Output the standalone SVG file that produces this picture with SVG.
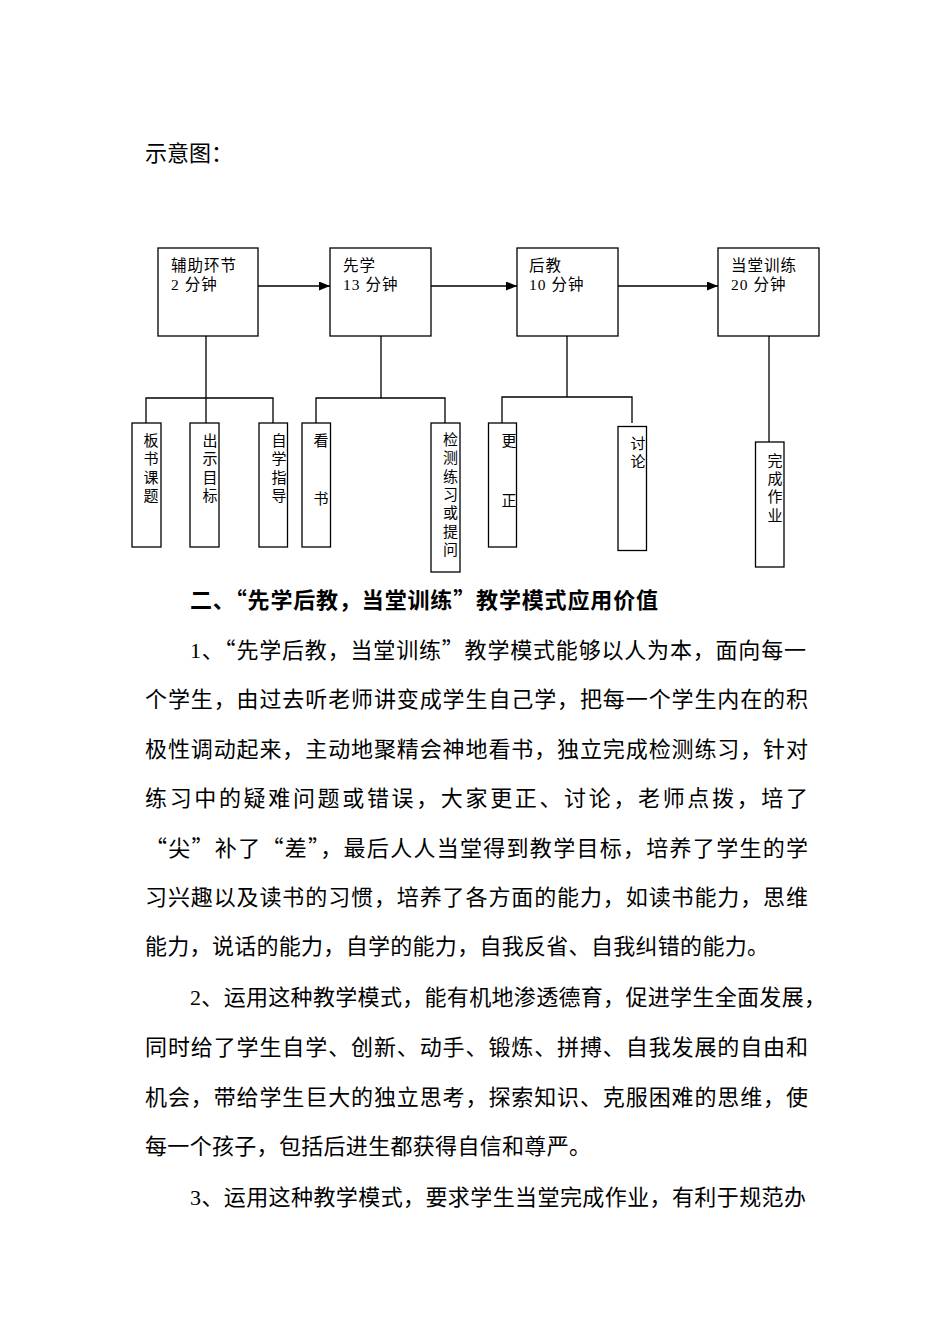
<svg xmlns="http://www.w3.org/2000/svg" width="950" height="1344" viewBox="0 0 950 1344">
<style>
.bx{fill:#fff;stroke:#000;stroke-width:1.3}
.ln{fill:none;stroke:#000;stroke-width:1.3}
.lb{font-family:"Liberation Serif","Noto Sans CJK SC",serif;font-size:15.5px;fill:#000}
.vt{font-family:"Noto Sans CJK SC",sans-serif;font-size:15px;fill:#000;writing-mode:vertical-rl;text-orientation:upright;letter-spacing:3.3px}
.p{font-family:"Noto Sans CJK SC",sans-serif;font-size:22px;fill:#000}
.d{font-family:"Liberation Serif",serif}
.h{font-weight:bold}
</style>
<defs>
<marker id="ah" markerWidth="11" markerHeight="9" refX="11" refY="4.5" orient="auto" markerUnits="userSpaceOnUse">
<path d="M0,0 L11,4.5 L0,9 Z" fill="#000"/>
</marker>
</defs>
<rect width="950" height="1344" fill="#fff"/>
<text class="p" x="145" y="161">示意图：</text>

<g id="connectors">
<line class="ln" x1="258" y1="286" x2="330" y2="286" marker-end="url(#ah)"/>
<line class="ln" x1="431" y1="286" x2="517" y2="286" marker-end="url(#ah)"/>
<line class="ln" x1="618" y1="286" x2="718" y2="286" marker-end="url(#ah)"/>
<path class="ln" d="M206,336 V398 M146,423 V398 H273 V423 M206,398 V423"/>
<path class="ln" d="M381,336 V398 M316,423 V398 H445 V423"/>
<path class="ln" d="M567,336 V397 M502,423 V397 H632 V423"/>
<path class="ln" d="M769,336 V442"/>
</g>

<g id="n-fuzhu"><rect class="bx" x="158" y="248" width="100" height="88"/>
<text class="lb" x="171" y="271" letter-spacing="1">辅助环节</text><text class="lb" x="171" y="290" letter-spacing="1">2 分钟</text></g>
<g id="n-xianxue"><rect class="bx" x="330" y="248" width="101" height="88"/>
<text class="lb" x="343" y="271" letter-spacing="1">先学</text><text class="lb" x="343" y="290" letter-spacing="1">13 分钟</text></g>
<g id="n-houjiao"><rect class="bx" x="517" y="248" width="101" height="88"/>
<text class="lb" x="529" y="271" letter-spacing="1">后教</text><text class="lb" x="529" y="290" letter-spacing="1">10 分钟</text></g>
<g id="n-dangtang"><rect class="bx" x="718" y="248" width="101" height="88"/>
<text class="lb" x="731" y="271" letter-spacing="1">当堂训练</text><text class="lb" x="731" y="290" letter-spacing="1">20 分钟</text></g>

<g id="c-banshu"><rect class="bx" x="132" y="423" width="29" height="124"/>
<text class="vt" x="151" y="433">板书课题</text></g>
<g id="c-chushi"><rect class="bx" x="190" y="423" width="29" height="124"/>
<text class="vt" x="210" y="433">出示目标</text></g>
<g id="c-zixue"><rect class="bx" x="259" y="423" width="28.5" height="124"/>
<text class="vt" x="279" y="433">自学指导</text></g>
<g id="c-kanshu"><rect class="bx" x="302" y="423" width="28.5" height="124"/>
<text class="vt" x="321" y="433">看</text><text class="vt" x="321" y="491">书</text></g>
<g id="c-jiance"><rect class="bx" x="431" y="423" width="29" height="149"/>
<text class="vt" x="450.5" y="432" letter-spacing="3.6">检测练习或提问</text></g>
<g id="c-gengzheng"><rect class="bx" x="488.5" y="423" width="28" height="124"/>
<text class="vt" x="509" y="433">更</text><text class="vt" x="509" y="492.5">正</text></g>
<g id="c-taolun"><rect class="bx" x="618" y="426.5" width="28.5" height="124"/>
<text class="vt" x="638" y="436">讨论</text></g>
<g id="c-wancheng"><rect class="bx" x="755.5" y="442" width="28.5" height="125"/>
<text class="vt" x="775" y="452.5">完成作业</text></g>

<g id="body">
<text class="p h" x="190" y="608" textLength="468" lengthAdjust="spacing">二、“先学后教，当堂训练”教学模式应用价值</text>
<text class="p" x="190" y="658" textLength="616" lengthAdjust="spacing"><tspan class="d">1</tspan>、“先学后教，当堂训练”教学模式能够以人为本，面向每一</text>
<text class="p" x="145" y="707" textLength="663" lengthAdjust="spacing">个学生，由过去听老师讲变成学生自己学，把每一个学生内在的积</text>
<text class="p" x="145" y="757" textLength="663" lengthAdjust="spacing">极性调动起来，主动地聚精会神地看书，独立完成检测练习，针对</text>
<text class="p" x="145" y="806" textLength="663" lengthAdjust="spacing">练习中的疑难问题或错误，大家更正、讨论，老师点拨，培了</text>
<text class="p" x="145" y="856" textLength="663" lengthAdjust="spacing">“尖”补了“差”，最后人人当堂得到教学目标，培养了学生的学</text>
<text class="p" x="145" y="905" textLength="663" lengthAdjust="spacing">习兴趣以及读书的习惯，培养了各方面的能力，如读书能力，思维</text>
<text class="p" x="145" y="954" textLength="624" lengthAdjust="spacing">能力，说话的能力，自学的能力，自我反省、自我纠错的能力。</text>
<text class="p" x="190" y="1005" textLength="636" lengthAdjust="spacing"><tspan class="d">2</tspan>、运用这种教学模式，能有机地渗透德育，促进学生全面发展，</text>
<text class="p" x="145" y="1055" textLength="663" lengthAdjust="spacing">同时给了学生自学、创新、动手、锻炼、拼搏、自我发展的自由和</text>
<text class="p" x="145" y="1105" textLength="663" lengthAdjust="spacing">机会，带给学生巨大的独立思考，探索知识、克服困难的思维，使</text>
<text class="p" x="145" y="1154" textLength="446" lengthAdjust="spacing">每一个孩子，包括后进生都获得自信和尊严。</text>
<text class="p" x="190" y="1205" textLength="616" lengthAdjust="spacing"><tspan class="d">3</tspan>、运用这种教学模式，要求学生当堂完成作业，有利于规范办</text>
</g>
</svg>
